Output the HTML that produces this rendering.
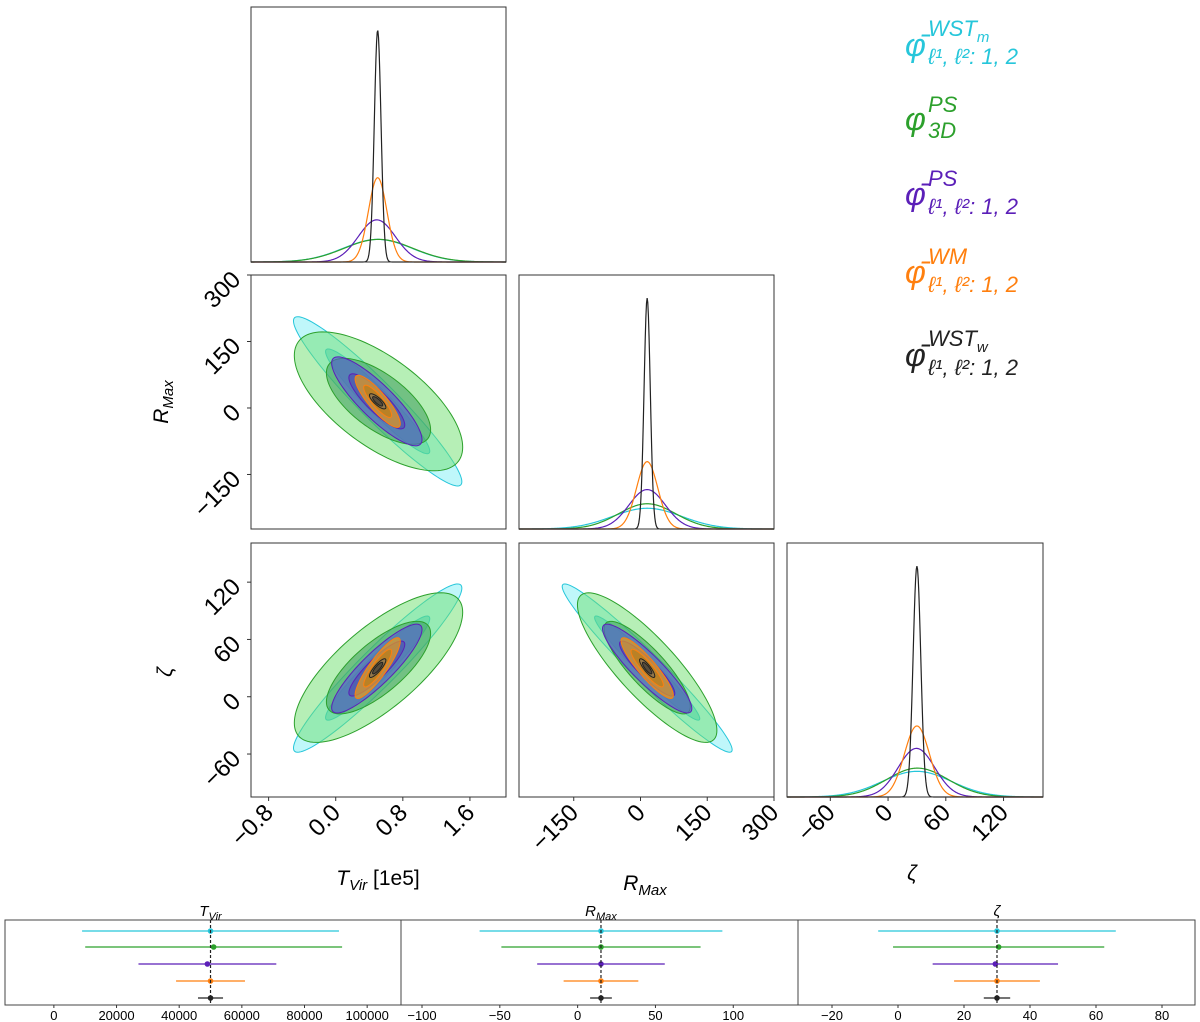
<!DOCTYPE html>
<html><head><meta charset="utf-8">
<style>
html,body{margin:0;padding:0;background:#fff;}
svg{display:block;font-family:"Liberation Sans","DejaVu Sans",sans-serif;}
</style></head>
<body>
<svg id="fig" width="1200" height="1022" viewBox="0 0 1200 1022" xmlns="http://www.w3.org/2000/svg">
<g id="legend" font-style="italic" font-size="32">
  <text x="905" y="56" fill="#26c6da">φ̄<tspan font-size="22" x="928" y="36">WST</tspan><tspan font-size="15" dy="6">m</tspan><tspan font-size="22" x="928" y="64">ℓ¹, ℓ²: 1, 2</tspan></text>
  <text x="905" y="130" fill="#2ca02c">φ<tspan font-size="22" x="928" y="112">PS</tspan><tspan font-size="22" x="928" y="138">3D</tspan></text>
  <text x="905" y="205" fill="#5b1fb8">φ̄<tspan font-size="22" x="928" y="186">PS</tspan><tspan font-size="22" x="928" y="214">ℓ¹, ℓ²: 1, 2</tspan></text>
  <text x="905" y="283" fill="#ff7f0e">φ̄<tspan font-size="22" x="928" y="264">WM</tspan><tspan font-size="22" x="928" y="292">ℓ¹, ℓ²: 1, 2</tspan></text>
  <text x="905" y="366" fill="#222">φ̄<tspan font-size="22" x="928" y="346">WST</tspan><tspan font-size="15" dy="6">w</tspan><tspan font-size="22" x="928" y="375">ℓ¹, ℓ²: 1, 2</tspan></text>
</g>
</svg>
<script>
// ---- data ----
const seriesNames = ["WST_m","PS_3D","PS","WM","WST_w"];
const meanT = [0.50, 0.51, 0.49, 0.50, 0.50];   // 1e5
const sigT  = [0.41, 0.41, 0.22, 0.11, 0.04];
const meanR = [15, 15, 15, 15, 15];
const sigR  = [78, 64, 41, 24, 7];
const meanZ = [30, 30.5, 29.5, 30, 30];
const sigZ  = [36, 32, 19, 13, 4];
const corrTR = [-0.95, -0.66, -0.86, -0.86, -0.8];
const corrTZ = [0.95, 0.74, 0.88, 0.88, 0.85];
const corrRZ = [-0.97, -0.84, -0.9, -0.9, -0.85];
const tickT = [-0.8, 0.0, 0.8, 1.6];
const tickTLabels = ["\u22120.8","0.0","0.8","1.6"];
const tickR = [-150, 0, 150, 300];
const tickRLabels = ["\u2212150","0","150","300"];
const tickZ = [-60, 0, 60, 120];
const tickZLabels = ["\u221260","0","60","120"];
const errTicks1 = [0,20000,40000,60000,80000,100000];
const errTicks2 = [-100,-50,0,50,100];
const errTicks3 = [-20,0,20,40,60,80];
const truthT = 50000, truthR = 15, truthZ = 30;

const lineCol = ["#26c6da","#2ca02c","#5b1fb8","#ff7f0e","#222222"];
const fillOuter = ["#7ff0f5","#6ee06e","#5a5ad8","#e8a018","#707070"];
const fillInner = ["#30c8d0","#3a9a5a","#4a3ab0","#b87a10","#303030"];
const opOuter = [0.5,0.5,0.6,0.7,0.5];
const opInner = [0.55,0.55,0.45,0.6,0.6];

const svg = document.getElementById('fig');
const NS = "http://www.w3.org/2000/svg";
function mk(tag, attrs, parent){const e=document.createElementNS(NS,tag);for(const k in attrs)e.setAttribute(k,attrs[k]);(parent||svg).appendChild(e);return e;}

const cols=[[251,506],[519,774],[787,1043]];
const rows=[[7,262],[275,529],[543,797]];
const ranges=[[-1.01,2.03],[-273,300],[-105,161]];
const means=[meanT,meanR,meanZ], sigs=[sigT,sigR,sigZ];
function sx(p,v){const c=cols[p],r=ranges[p];return c[0]+(v-r[0])/(r[1]-r[0])*(c[1]-c[0]);}
function sy(p,v){const c=rows[p],r=ranges[p];return c[1]-(v-r[0])/(r[1]-r[0])*(c[1]-c[0]);}
function corr(a,b,i){const k=a+""+b; if(k==="01")return corrTR[i]; if(k==="02")return corrTZ[i]; return corrRZ[i];}

function frame(x0,y0,x1,y1,name){
  const r=mk('rect',{x:x0,y:y0,width:x1-x0,height:y1-y0,fill:'none',stroke:'#333','stroke-width':1});
  
  
}

// diagonal
for(let p=0;p<3;p++){
  const g=mk('g',{});
  
  
  const y0=rows[p][0], y1=rows[p][1];
  let maxd=0; for(let i=0;i<5;i++) maxd=Math.max(maxd,1/(sigs[p][i]*Math.sqrt(2*Math.PI)));
  const ymax=1.1*maxd;
  for(let i=0;i<5;i++){
    let d="";
    for(let k=0;k<=400;k++){
      const v=ranges[p][0]+(ranges[p][1]-ranges[p][0])*k/400;
      const z=(v-means[p][i])/sigs[p][i];
      const dens=Math.exp(-0.5*z*z)/(sigs[p][i]*Math.sqrt(2*Math.PI));
      const X=sx(p,v), Y=y1-dens/ymax*(y1-y0);
      d+=(k?"L":"M")+X.toFixed(2)+","+Y.toFixed(2);
    }
    const path=mk('path',{d:d,fill:'none',stroke:lineCol[i],'stroke-width':1.2},g);
    
    
  }
  frame(cols[p][0],y0,cols[p][1],y1,'marginal-frame-'+p);
}

// 2D panels
const pairs=[[0,1],[0,2],[1,2]];
const levels=[2.448,1.515];
for(const [a,b] of pairs){
  const g=mk('g',{});
  
  
  for(let i=0;i<5;i++){
    const sa=sigs[a][i], sb=sigs[b][i], rho=corr(a,b,i);
    for(let L=0;L<2;L++){
      const k=levels[L]; let d="";
      for(let t=0;t<=120;t++){
        const th=2*Math.PI*t/120, u=Math.cos(th), w=Math.sin(th);
        const va=means[a][i]+k*sa*u;
        const vb=means[b][i]+k*sb*(rho*u+Math.sqrt(1-rho*rho)*w);
        d+=(t?"L":"M")+sx(a,va).toFixed(2)+","+sy(b,vb).toFixed(2);
      }
      const e=mk('path',{d:d+"Z",fill:L?fillInner[i]:fillOuter[i],'fill-opacity':L?opInner[i]:opOuter[i],stroke:lineCol[i],'stroke-width':1},g);
      
      
    }
  }
  frame(cols[a][0],rows[b][0],cols[a][1],rows[b][1],'contour-frame-'+a+'-'+b);
}

// ticks & labels
const tickVals=[tickT,tickR,tickZ], tickLabs=[tickTLabels,tickRLabels,tickZLabels];
for(let p=0;p<3;p++){
  tickVals[p].forEach((v,j)=>{
    const X=sx(p,v);
    mk('line',{x1:X,x2:X,y1:797,y2:801,stroke:'#333'});
    const t=mk('text',{x:X+6,y:814,'font-size':24,'text-anchor':'end',transform:`rotate(-45 ${X+6} 814)`});
    
    
    t.textContent=tickLabs[p][j];
  });
}
for(let p=1;p<3;p++){
  tickVals[p].forEach((v,j)=>{
    const Y=sy(p,v);
    mk('line',{x1:247,x2:251,y1:Y,y2:Y,stroke:'#333'});
    const t=mk('text',{x:242,y:Y+6,'font-size':24,'text-anchor':'end',transform:`rotate(-45 242 ${Y+6})`});
    
    
    t.textContent=tickLabs[p][j];
  });
}
function lab(html,x,y,rot,name){
  const t=mk('text',{x:x,y:y,'font-size':21,'text-anchor':'middle'});
  if(rot) t.setAttribute('transform',`rotate(-90 ${x} ${y})`);
  
  
  t.innerHTML=html;
}
lab('<tspan font-style="italic">T</tspan><tspan font-style="italic" font-size="15" dy="5">Vir</tspan><tspan dy="-5"> [1e5]</tspan>',378,885,false,'x-axis-title-tvir');
lab('<tspan font-style="italic">R</tspan><tspan font-style="italic" font-size="15" dy="5">Max</tspan>',645,890,false,'x-axis-title-rmax');
lab('<tspan font-style="italic">ζ</tspan>',912,880,false,'x-axis-title-zeta');
lab('<tspan font-style="italic">R</tspan><tspan font-style="italic" font-size="15" dy="5">Max</tspan>',168,402,true,'y-axis-title-rmax');
lab('<tspan font-style="italic">ζ</tspan>',172,672,true,'y-axis-title-zeta');

// error bar panels
const epan=[[5,401,-15600,110800,errTicks1,meanT.map(v=>v*1e5),sigT.map(v=>v*1e5),truthT,'T<tspan font-size="11" dy="4">Vir</tspan>'],
            [401,798,-113.5,141.6,errTicks2,meanR,sigR,truthR,'R<tspan font-size="11" dy="4">Max</tspan>'],
            [798,1195,-30.3,90,errTicks3,meanZ,sigZ,truthZ,'ζ']];
const rowY=[931,947,964,981,998];
epan.forEach((P,pi)=>{
  const [x0,x1,v0,v1,ticks,mu,sg,truth,title]=P;
  const g=mk('g',{});
  
  
  const X=v=>x0+(v-v0)/(v1-v0)*(x1-x0);
  const r=mk('rect',{x:x0,y:920,width:x1-x0,height:85,fill:'none',stroke:'#444'},g);
  
  
  for(let i=0;i<5;i++){
    const l=mk('line',{x1:X(mu[i]-sg[i]),x2:X(mu[i]+sg[i]),y1:rowY[i],y2:rowY[i],stroke:lineCol[i],'stroke-width':1.3},g);
    
    
    const c=mk('circle',{cx:X(mu[i]),cy:rowY[i],r:2.8,fill:lineCol[i]},g);
    
    
  }
  const tl=mk('line',{x1:X(truth),x2:X(truth),y1:920,y2:1005,stroke:'#222','stroke-dasharray':'3,2','stroke-width':1.2},g);
  
  
  ticks.forEach(v=>{
    mk('line',{x1:X(v),x2:X(v),y1:1005,y2:1008,stroke:'#333'},g);
    const t=mk('text',{x:X(v),y:1020,'font-size':13,'text-anchor':'middle'},g);
    
    
    t.textContent=(v<0?'\u2212':'')+Math.abs(v);
  });
  const tt=mk('text',{x:X(truth),y:916,'font-size':15,'font-style':'italic','text-anchor':'middle'},g);
  
  
  tt.innerHTML=title;
});
</script>
</body></html>
